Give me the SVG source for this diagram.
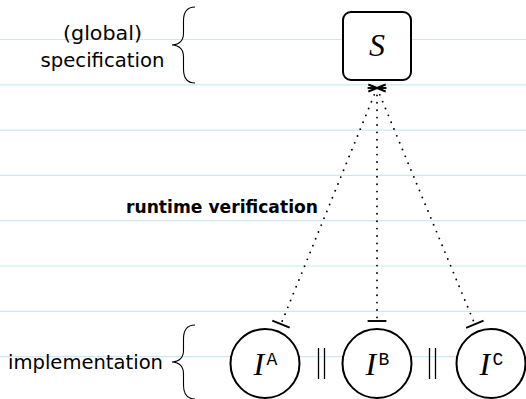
<svg xmlns="http://www.w3.org/2000/svg" width="526" height="399" viewBox="0 0 526 399">
  <style>
    .rule { stroke: #cde7f4; stroke-width: 1.2; }
    .label { font-family: "DejaVu Sans", sans-serif; font-size: 19.6px; fill: #000; }
    .bold { font-family: "DejaVu Sans", sans-serif; font-weight: bold; font-size: 17px; fill: #000; }
    .math { font-family: "Liberation Serif", serif; font-style: italic; font-size: 32px; fill: #000; }
    .sup { font-family: "Liberation Mono", monospace; font-size: 18px; fill: #000; }
    .node { fill: #fff; stroke: #000; stroke-width: 2; }
    .brace { fill: none; stroke: #000; stroke-width: 1.1; }
    .dots { fill: none; stroke: #000; stroke-width: 1.9; stroke-linecap: round; stroke-dasharray: 0 7.4; }
    .bar { stroke: #000; stroke-width: 1.9; }
    .par { stroke: #000; stroke-width: 1.3; }
  </style>

  <!-- ruled background -->
  <g id="rules">
    <line class="rule" x1="0" y1="39.5" x2="526" y2="39.5"/>
    <line class="rule" x1="0" y1="84.8" x2="526" y2="84.8"/>
    <line class="rule" x1="0" y1="130.1" x2="526" y2="130.1"/>
    <line class="rule" x1="0" y1="175.4" x2="526" y2="175.4"/>
    <line class="rule" x1="0" y1="220.7" x2="526" y2="220.7"/>
    <line class="rule" x1="0" y1="266" x2="526" y2="266"/>
    <line class="rule" x1="0" y1="311.3" x2="526" y2="311.3"/>
    <line class="rule" x1="0" y1="356.6" x2="526" y2="356.6"/>
  </g>

  <!-- level labels with braces -->
  <g id="spec-label">
    <text class="label" x="102.5" y="40" text-anchor="middle" textLength="79" lengthAdjust="spacingAndGlyphs">(global)</text>
    <text class="label" x="102.5" y="67" text-anchor="middle" textLength="124" lengthAdjust="spacingAndGlyphs">specification</text>
    <path class="brace" d="M195,7 C187,7 183.5,12 183.5,21 L183.5,33 C183.5,40 180,44.5 172,45 C180,45.5 183.5,50 183.5,57 L183.5,69 C183.5,78 187,83 195,83"/>
  </g>
  <g id="impl-label">
    <text class="label" x="85.5" y="369" text-anchor="middle" textLength="155" lengthAdjust="spacingAndGlyphs">implementation</text>
    <path class="brace" d="M195,325 C187,325 183.5,330 183.5,339 L183.5,350 C183.5,357 180,361.5 172,362 C180,362.5 183.5,367 183.5,374 L183.5,385 C183.5,394 187,399 195,399"/>
  </g>

  <!-- connectors: dotted lines with bar ends -->
  <g id="connectors">
    <line class="dots" x1="377" y1="88" x2="281" y2="324.1"/>
    <line class="dots" x1="377" y1="88" x2="377" y2="321"/>
    <line class="dots" x1="377" y1="88" x2="474.8" y2="324.2"/>
    <!-- bars at the specification end -->
    <line class="bar" x1="368.3" y1="84.5" x2="385.7" y2="91.5"/>
    <line class="bar" x1="367.6" y1="88" x2="386.4" y2="88"/>
    <line class="bar" x1="368.3" y1="91.5" x2="385.7" y2="84.5"/>
    <!-- bars at the implementation end -->
    <line class="bar" x1="272.3" y1="320.6" x2="289.7" y2="327.6"/>
    <line class="bar" x1="367.6" y1="321" x2="386.4" y2="321"/>
    <line class="bar" x1="466.1" y1="327.8" x2="483.5" y2="320.6"/>
    <text class="bold" x="318" y="213" text-anchor="end" textLength="192" lengthAdjust="spacingAndGlyphs">runtime verification</text>
  </g>

  <!-- specification node -->
  <g id="node-S">
    <rect class="node" x="343" y="12" width="68" height="68" rx="8" ry="8"/>
    <text class="math" x="377" y="56" text-anchor="middle">S</text>
  </g>

  <!-- component implementations -->
  <g id="node-IA">
    <circle class="node" cx="265" cy="363.5" r="34.5"/>
    <text class="math" x="253.5" y="375">I</text>
    <text class="sup" x="266.5" y="365">A</text>
  </g>
  <g id="node-IB">
    <circle class="node" cx="377" cy="363.5" r="34.5"/>
    <text class="math" x="365.5" y="375">I</text>
    <text class="sup" x="378.5" y="365">B</text>
  </g>
  <g id="node-IC">
    <circle class="node" cx="491" cy="363.5" r="34.5"/>
    <text class="math" x="479.5" y="375">I</text>
    <text class="sup" x="492.5" y="365">C</text>
  </g>

  <!-- parallel composition symbols -->
  <g id="parallel">
    <line class="par" x1="318.5" y1="348" x2="318.5" y2="379"/>
    <line class="par" x1="324.5" y1="348" x2="324.5" y2="379"/>
    <line class="par" x1="429.5" y1="348" x2="429.5" y2="379"/>
    <line class="par" x1="435.5" y1="348" x2="435.5" y2="379"/>
  </g>
</svg>
